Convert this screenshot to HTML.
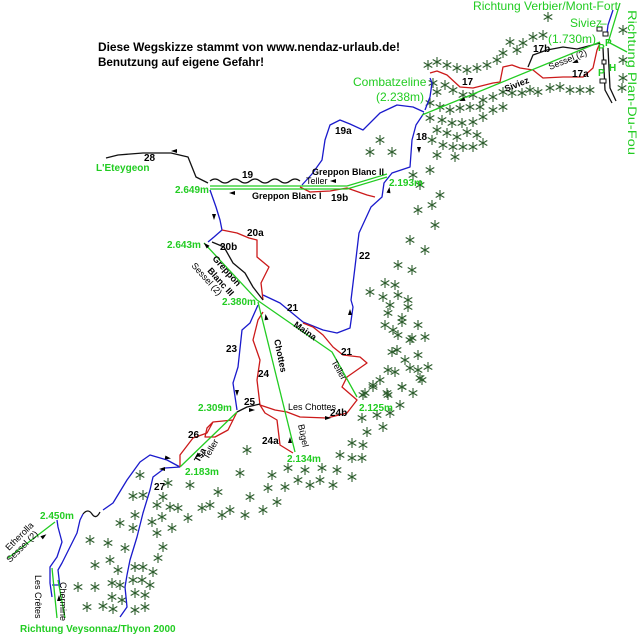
<!DOCTYPE html>
<html><head><meta charset="utf-8"><style>
html,body{margin:0;padding:0;background:#fff}
svg{display:block}
text{font-family:"Liberation Sans",Arial,sans-serif}
.n{font-size:10px;font-weight:bold;fill:#000}
.g{font-size:10px;font-weight:bold;fill:#22cc22}
.G{font-size:12px;fill:#22cc22}
.l{font-size:9px;fill:#000}
.lb{font-size:9px;font-weight:bold;fill:#000}
</style></head><body>
<svg width="640" height="643" viewBox="0 0 640 643" xmlns="http://www.w3.org/2000/svg">
<defs>
<g id="t"><path d="M0,-5V5M-4.3,-2.5L4.3,2.5M-4.3,2.5L4.3,-2.5" stroke="#2e5e2e" stroke-width="1.1" fill="none"/></g>
<path id="a" d="M-3,-2L3,0L-3,2Z" fill="#000"/>
</defs>
<rect width="640" height="643" fill="#fff"/>

<g>
<use href="#t" x="548" y="17"/><use href="#t" x="510" y="42"/><use href="#t" x="523" y="43"/><use href="#t" x="533" y="37"/><use href="#t" x="543" y="35"/><use href="#t" x="517" y="50"/><use href="#t" x="503" y="53"/><use href="#t" x="497" y="60"/><use href="#t" x="487" y="65"/><use href="#t" x="477" y="68"/><use href="#t" x="467" y="70"/><use href="#t" x="457" y="68"/><use href="#t" x="447" y="65"/><use href="#t" x="437" y="62"/><use href="#t" x="428" y="65"/><use href="#t" x="433" y="83"/><use href="#t" x="437" y="92"/><use href="#t" x="445" y="85"/><use href="#t" x="453" y="90"/><use href="#t" x="463" y="95"/><use href="#t" x="473" y="95"/><use href="#t" x="483" y="100"/><use href="#t" x="493" y="97"/><use href="#t" x="503" y="92"/><use href="#t" x="512" y="93"/><use href="#t" x="522" y="93"/><use href="#t" x="530" y="90"/><use href="#t" x="538" y="92"/><use href="#t" x="550" y="88"/><use href="#t" x="560" y="87"/><use href="#t" x="570" y="90"/><use href="#t" x="580" y="90"/><use href="#t" x="590" y="90"/><use href="#t" x="623" y="30"/><use href="#t" x="623" y="60"/><use href="#t" x="623" y="78"/><use href="#t" x="622" y="88"/>
<use href="#t" x="430" y="103"/><use href="#t" x="440" y="107"/><use href="#t" x="450" y="110"/><use href="#t" x="460" y="108"/><use href="#t" x="470" y="107"/><use href="#t" x="480" y="107"/><use href="#t" x="493" y="110"/><use href="#t" x="503" y="107"/><use href="#t" x="430" y="118"/><use href="#t" x="442" y="120"/><use href="#t" x="452" y="123"/><use href="#t" x="462" y="123"/><use href="#t" x="473" y="122"/><use href="#t" x="483" y="117"/><use href="#t" x="437" y="130"/><use href="#t" x="447" y="133"/><use href="#t" x="457" y="137"/><use href="#t" x="467" y="132"/><use href="#t" x="477" y="135"/><use href="#t" x="432" y="140"/><use href="#t" x="443" y="145"/><use href="#t" x="453" y="147"/><use href="#t" x="463" y="147"/><use href="#t" x="473" y="147"/><use href="#t" x="483" y="143"/><use href="#t" x="380" y="140"/><use href="#t" x="370" y="152"/><use href="#t" x="392" y="152"/><use href="#t" x="437" y="155"/><use href="#t" x="455" y="157"/>
<use href="#t" x="413" y="175"/><use href="#t" x="430" y="170"/><use href="#t" x="420" y="185"/><use href="#t" x="440" y="195"/><use href="#t" x="432" y="205"/><use href="#t" x="418" y="210"/><use href="#t" x="435" y="225"/><use href="#t" x="410" y="240"/><use href="#t" x="425" y="250"/><use href="#t" x="398" y="265"/><use href="#t" x="412" y="270"/><use href="#t" x="395" y="285"/><use href="#t" x="408" y="300"/><use href="#t" x="390" y="305"/><use href="#t" x="402" y="318"/><use href="#t" x="385" y="325"/><use href="#t" x="398" y="335"/><use href="#t" x="412" y="338"/><use href="#t" x="392" y="352"/><use href="#t" x="405" y="360"/><use href="#t" x="418" y="370"/><use href="#t" x="388" y="370"/><use href="#t" x="380" y="380"/>
<use href="#t" x="370" y="292"/><use href="#t" x="385" y="283"/><use href="#t" x="383" y="297"/><use href="#t" x="398" y="295"/><use href="#t" x="388" y="313"/><use href="#t" x="408" y="307"/><use href="#t" x="402" y="322"/><use href="#t" x="418" y="325"/><use href="#t" x="393" y="330"/><use href="#t" x="410" y="340"/><use href="#t" x="425" y="337"/><use href="#t" x="397" y="350"/><use href="#t" x="418" y="355"/><use href="#t" x="410" y="368"/><use href="#t" x="428" y="367"/><use href="#t" x="395" y="372"/><use href="#t" x="420" y="378"/><use href="#t" x="402" y="387"/><use href="#t" x="413" y="393"/><use href="#t" x="373" y="387"/><use href="#t" x="363" y="395"/><use href="#t" x="388" y="395"/><use href="#t" x="400" y="405"/>
<use href="#t" x="247" y="450"/><use href="#t" x="240" y="473"/><use href="#t" x="218" y="492"/><use href="#t" x="250" y="497"/><use href="#t" x="272" y="475"/><use href="#t" x="268" y="488"/><use href="#t" x="285" y="487"/><use href="#t" x="288" y="468"/><use href="#t" x="305" y="470"/><use href="#t" x="298" y="480"/><use href="#t" x="310" y="485"/><use href="#t" x="320" y="480"/><use href="#t" x="322" y="468"/><use href="#t" x="337" y="470"/><use href="#t" x="333" y="485"/><use href="#t" x="352" y="477"/><use href="#t" x="340" y="455"/><use href="#t" x="352" y="458"/><use href="#t" x="362" y="458"/><use href="#t" x="352" y="443"/><use href="#t" x="363" y="445"/><use href="#t" x="367" y="432"/><use href="#t" x="362" y="418"/><use href="#t" x="377" y="415"/><use href="#t" x="390" y="413"/><use href="#t" x="383" y="427"/><use href="#t" x="365" y="393"/><use href="#t" x="373" y="385"/><use href="#t" x="387" y="393"/><use href="#t" x="402" y="387"/><use href="#t" x="422" y="380"/><use href="#t" x="277" y="502"/><use href="#t" x="263" y="510"/><use href="#t" x="245" y="515"/><use href="#t" x="230" y="510"/><use href="#t" x="222" y="515"/><use href="#t" x="210" y="505"/><use href="#t" x="202" y="508"/><use href="#t" x="188" y="518"/><use href="#t" x="178" y="508"/><use href="#t" x="170" y="507"/><use href="#t" x="163" y="497"/><use href="#t" x="157" y="505"/><use href="#t" x="162" y="517"/><use href="#t" x="172" y="528"/><use href="#t" x="140" y="475"/><use href="#t" x="168" y="483"/><use href="#t" x="190" y="485"/>
<use href="#t" x="133" y="496"/><use href="#t" x="143" y="495"/><use href="#t" x="135" y="515"/><use href="#t" x="120" y="523"/><use href="#t" x="133" y="528"/><use href="#t" x="90" y="540"/><use href="#t" x="108" y="543"/><use href="#t" x="125" y="548"/><use href="#t" x="110" y="560"/><use href="#t" x="95" y="565"/><use href="#t" x="118" y="570"/><use href="#t" x="135" y="567"/><use href="#t" x="143" y="567"/><use href="#t" x="112" y="583"/><use href="#t" x="120" y="585"/><use href="#t" x="133" y="580"/><use href="#t" x="142" y="580"/><use href="#t" x="78" y="587"/><use href="#t" x="95" y="587"/><use href="#t" x="112" y="597"/><use href="#t" x="122" y="600"/><use href="#t" x="135" y="593"/><use href="#t" x="145" y="595"/><use href="#t" x="87" y="607"/><use href="#t" x="103" y="606"/><use href="#t" x="113" y="609"/><use href="#t" x="135" y="610"/><use href="#t" x="145" y="607"/><use href="#t" x="152" y="522"/><use href="#t" x="157" y="533"/><use href="#t" x="163" y="547"/><use href="#t" x="158" y="558"/><use href="#t" x="153" y="572"/><use href="#t" x="150" y="585"/>
</g>

<g fill="none" stroke-width="1.3" stroke-linejoin="round">
<path stroke="#1a1acc" d="M425,110 L430,97 L432,83 L430,78"/>
<path stroke="#1a1acc" d="M424,112 L413,107 L397,105 L380,113 L363,130 L350,124 L340,120 L330,125 L325,140 L322,160 L312,174 L302,185"/>
<path stroke="#1a1acc" d="M424,113 L416,125 L412,140 L410,167 L392,173 L384,183 L382,197 L371,207 L359,233 L355,267 L351,300 L353,307 L350,328 L337,333 L323,330 L303,322 L280,303 L263,295"/>
<path stroke="#1a1acc" d="M210,190 L216,207 L220,220 L222,230 L214,237 L208,242"/>
<path stroke="#1a1acc" d="M258,305 L250,323 L242,330 L238,367 L233,383 L237,410"/>
<path stroke="#1a1acc" d="M180,467 L167,460 L150,455 L140,462 L127,480 L113,503 L103,510 M83,514 L80,520 L77,533 L67,553 L62,563 L58,570 L60,587"/>
<path stroke="#1a1acc" d="M180,467 L165,468 L153,477 L150,490 L143,513 L137,537 L130,560 L127,575 L125,587 L127,607 L120,617"/>
<path stroke="#1a1acc" d="M57,520 L58,527 L62,542 L57,557 L50,567 L50,583 L52,597 M52,585 L60,585"/>
<path stroke="#1a1acc" d="M613,10 L608,25 L607,33"/>
<path stroke="#cc1a1a" d="M430,73 L437,71 L447,75 L460,87 L473,88 L493,83 L500,82 L503,67 L512,65 L520,68 L533,70 L543,78 L563,77 L583,77 L593,68 L597,50 L600,43"/>
<path stroke="#cc1a1a" d="M300,187 L310,192 L330,191 L347,188 L367,195 L375,197"/>
<path stroke="#cc1a1a" d="M222,230 L237,233 L249,238 L257,240 L257,257 L269,267 L261,283 L263,300"/>
<path stroke="#cc1a1a" d="M263,312 L258,320 L253,340 L260,360 L257,380 L260,405 L275,410 L287,412 L300,417 L327,418 L347,413 L357,400 L342,387 L347,377 L367,363 L360,357 L343,355 L333,347 L323,335 L313,327 L303,323"/>
<path stroke="#cc1a1a" d="M260,405 L265,413 L277,420 L280,445 L293,453"/>
<path stroke="#cc1a1a" d="M237,412 L233,420 L213,422 L207,433 L193,438 L180,455 L180,467 M233,420 L228,430 L215,437 L205,437 L207,428 L213,422"/>
<path stroke="#111" d="M528,67 L533,55 L547,50 L563,47 L577,49 L600,43"/>
<path stroke="#111" d="M208,183 L196,177 L192,167 L188,157 L171,153 L143,153 L118,155 L106,158"/>
<path stroke="#111" d="M210,181 q5,-4 10,0 t10,0 t10,0 t10,0 t10,0 t10,0 t10,0 t10,0 t10,0"/>
<path stroke="#111" d="M212,242 L224,247 L233,263 L245,273 L253,287 L263,300"/>
<path stroke="#111" d="M237,412 L247,407 L260,404"/>
<path stroke="#111" d="M83,514 Q88,508 92,514 T100,512"/>
<path stroke="#111" d="M603,48 L605,90 L612,103 M608,48 L610,88 L616,101"/>
<g stroke="#22cc22">
<path d="M422,115 L600,42"/>
<path d="M620,3 L608,43 M610,43 L627,52"/>
<path d="M210,186 L347,186 M210,189 L347,189 L387,177 M347,186 L387,174"/>
<path d="M204,243 L257,300"/>
<path d="M257,300 L332,352 L357,397"/>
<path d="M258,302 L295,452"/>
<path d="M180,467 L237,412"/>
<path d="M8,558 L55,522"/>
<path d="M52,568 L57,618 M58,580 L65,618"/>
</g>
</g>
<use href="#a" transform="translate(462,100) rotate(160)"/>
<use href="#a" transform="translate(575,62) rotate(160)"/>
<use href="#a" transform="translate(174,151) rotate(180)"/>
<use href="#a" transform="translate(232,193) rotate(180)"/>
<use href="#a" transform="translate(333,181) rotate(180)"/>
<use href="#a" transform="translate(419,150) rotate(90)"/>
<use href="#a" transform="translate(214,217) rotate(90)"/>
<use href="#a" transform="translate(389,190) rotate(-80)"/>
<use href="#a" transform="translate(350,312) rotate(-90)"/>
<use href="#a" transform="translate(206,245) rotate(-135)"/>
<use href="#a" transform="translate(266,317) rotate(-100)"/>
<use href="#a" transform="translate(237,393) rotate(90)"/>
<use href="#a" transform="translate(252,410) rotate(0)"/>
<use href="#a" transform="translate(328,418) rotate(0)"/>
<use href="#a" transform="translate(290,440) rotate(-90)"/>
<use href="#a" transform="translate(197,456) rotate(135)"/>
<use href="#a" transform="translate(168,458) rotate(10)"/>
<use href="#a" transform="translate(162,469) rotate(180)"/>
<use href="#a" transform="translate(44,536) rotate(-37)"/>
<use href="#a" transform="translate(59,598) rotate(-90)"/>
<g fill="#fff" stroke="#111" stroke-width="1">
<rect x="597" y="27" width="5" height="4"/><rect x="603" y="32" width="5" height="4"/><rect x="602" y="60" width="4" height="4"/><rect x="600" y="79" width="6" height="4"/>
</g>
<text x="598" y="51" class="g">P</text><text x="605" y="46" class="g">P</text><text x="598" y="76" class="g">P</text><text x="609" y="71" class="g">H</text>

<text x="98" y="51" font-size="12" font-weight="bold" textLength="302" lengthAdjust="spacingAndGlyphs">Diese Wegskizze stammt von www.nendaz-urlaub.de!</text>
<text x="98" y="66" font-size="12" font-weight="bold" textLength="166" lengthAdjust="spacingAndGlyphs">Benutzung auf eigene Gefahr!</text>

<text x="473" y="10" class="G" textLength="145" lengthAdjust="spacingAndGlyphs">Richtung Verbier/Mont-Fort</text>
<text x="570" y="27" class="G">Siviez</text><text x="600" y="27" class="G">–</text>
<text x="548" y="43" class="G">(1.730m)</text>
<text class="G" transform="translate(628,10) rotate(90)" textLength="145" lengthAdjust="spacingAndGlyphs">Richtung Plan-Du-Fou</text>
<text x="353" y="86" class="G">Combatzeline</text>
<text x="376" y="101" class="G">(2.238m)</text>
<text x="96" y="171" class="g">L'Eteygeon</text>
<text x="175" y="193" class="g">2.649m</text>
<text x="389" y="186" class="g">2.193m</text>
<text x="167" y="248" class="g">2.643m</text>
<text x="222" y="305" class="g">2.380m</text>
<text x="359" y="411" class="g">2.125m</text>
<text x="198" y="411" class="g">2.309m</text>
<text x="185" y="475" class="g">2.183m</text>
<text x="287" y="462" class="g">2.134m</text>
<text x="40" y="519" class="g">2.450m</text>
<text x="20" y="632" class="g" font-weight="normal" font-size="11">Richtung Veysonnaz/Thyon 2000</text>

<text x="462" y="85" class="n">17</text><text x="533" y="52" class="n">17b</text><text x="572" y="77" class="n">17a</text>
<text x="416" y="140" class="n">18</text><text x="335" y="134" class="n">19a</text><text x="144" y="161" class="n">28</text>
<text x="242" y="178" class="n">19</text><text x="331" y="201" class="n">19b</text>
<text x="247" y="236" class="n">20a</text><text x="220" y="250" class="n">20b</text>
<text x="359" y="259" class="n">22</text><text x="287" y="311" class="n">21</text><text x="341" y="355" class="n">21</text>
<text x="226" y="352" class="n">23</text><text x="258" y="377" class="n">24</text><text x="244" y="405" class="n">25</text>
<text x="330" y="416" class="n">24b</text><text x="262" y="444" class="n">24a</text><text x="188" y="438" class="n">26</text><text x="154" y="490" class="n">27</text>

<text x="312" y="175" class="lb" font-size="10">Greppon Blanc II</text>
<text x="306" y="184" class="l" fill="#444">Teller</text>
<text x="252" y="199" class="lb" font-size="10">Greppon Blanc I</text>
<text x="288" y="410" class="l" font-size="10">Les Chottes</text>
<text class="lb" transform="translate(506,92) rotate(-22)">Siviez</text>
<text class="l" transform="translate(550,70) rotate(-22)">Sessel (2)</text>
<text class="lb" font-size="10" transform="translate(212,259) rotate(48)">Greppon</text>
<text class="lb" font-size="10" transform="translate(207,271) rotate(48)">Blanc III</text>
<text class="l" transform="translate(191,266) rotate(48)">Sessel (2)</text>
<text class="lb" transform="translate(293,326) rotate(35)">Maina</text>
<text class="l" transform="translate(331,362) rotate(60)">Teller</text>
<text class="lb" transform="translate(274,340) rotate(78)">Chottes</text>
<text class="l" transform="translate(298,425) rotate(78)">Bügel</text>
<text class="lb" transform="translate(199,463) rotate(-60)">Tsa</text>
<text class="l" transform="translate(208,460) rotate(-60)">Teller</text>
<text class="l" transform="translate(9,551) rotate(-45)">Etherolla</text>
<text class="l" transform="translate(10,563) rotate(-45)">Sessel (2)</text>
<text class="l" transform="translate(35,575) rotate(90)">Les Crêtes</text>
<text class="l" transform="translate(60,582) rotate(90)">Chermine</text>
</svg>
</body></html>
